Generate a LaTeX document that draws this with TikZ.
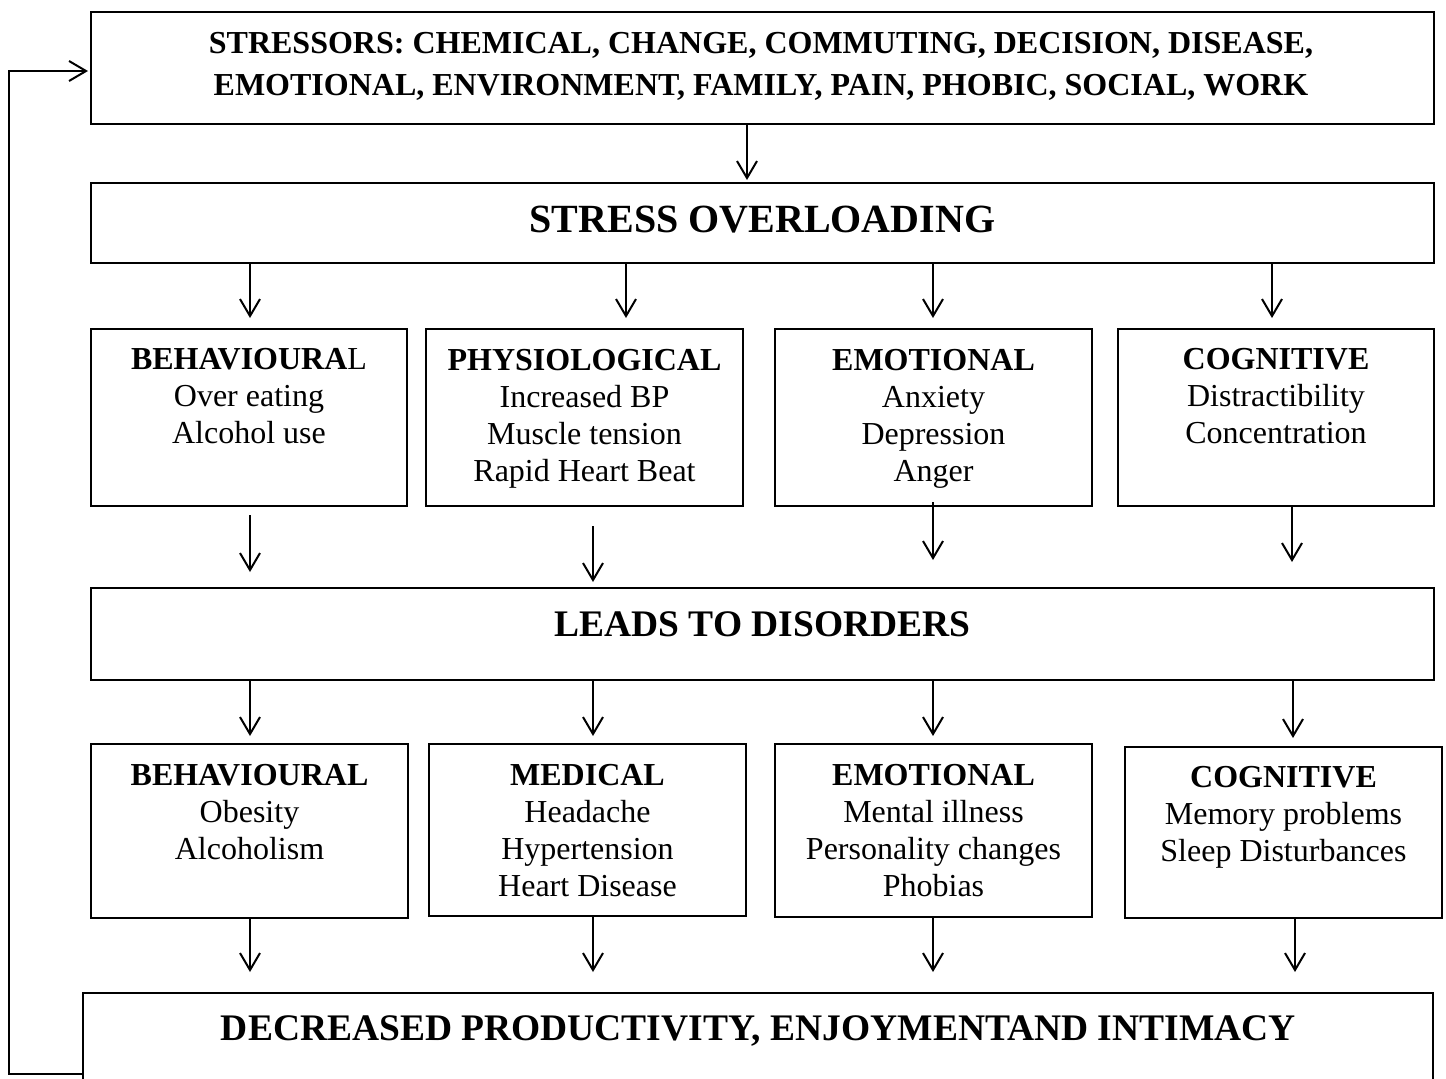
\documentclass[tikz,border=0pt]{standalone}
\usepackage{fontspec}
\setmainfont{Liberation Serif}
\usetikzlibrary{arrows.meta}

\tikzset{
  box/.style={draw, line width=2pt, inner sep=0pt, outer sep=0pt, anchor=north west},
  arr/.style={line width=2pt, -{Straight Barb[length=17pt,width=20pt,line width=2pt]}},
  txt/.style={anchor=base, inner sep=0pt},
}
% three-line box contents: first line is the baseline of the node
\newcommand{\boxtext}[2]{\fontsize{32}{37}\selectfont\begin{tabular}[t]{@{}c@{}}\textbf{#1}\\#2\end{tabular}}

\begin{document}
\begin{tikzpicture}[x=1pt,y=-1pt]
\useasboundingbox (0,0) rectangle (1446,1079);
\clip (0,0) rectangle (1446,1079);

% boxes
\node[box, minimum width=1343pt, minimum height=112pt] (stressors) at (91,12) {};
\node[box, minimum width=1343pt, minimum height=80pt]  (overload)  at (91,183) {};
\node[box, minimum width=316pt, minimum height=177pt]  (b1) at (91,329) {};
\node[box, minimum width=317pt, minimum height=177pt]  (p1) at (426,329) {};
\node[box, minimum width=317pt, minimum height=177pt]  (e1) at (775,329) {};
\node[box, minimum width=316pt, minimum height=177pt]  (c1) at (1118,329) {};
\node[box, minimum width=1343pt, minimum height=92pt]  (leads) at (91,588) {};
\node[box, minimum width=317pt, minimum height=174pt]  (b2) at (91,744) {};
\node[box, minimum width=317pt, minimum height=172pt]  (m2) at (429,744) {};
\node[box, minimum width=317pt, minimum height=173pt]  (e2) at (775,744) {};
\node[box, minimum width=317pt, minimum height=171pt]  (c2) at (1125,747) {};
\node[box, minimum width=1350pt, minimum height=120pt] (dec) at (83,993) {};

% texts
\node[txt] (tstress) at (761,53) {\fontsize{32}{42}\selectfont\bfseries
  \begin{tabular}[t]{@{}c@{}}STRESSORS: CHEMICAL, CHANGE, COMMUTING, DECISION, DISEASE,\\
  EMOTIONAL, ENVIRONMENT, FAMILY, PAIN, PHOBIC, SOCIAL, WORK\end{tabular}};
\node[txt] (tover) at (762.5,232) {\fontsize{40}{46}\selectfont\bfseries STRESS OVERLOADING};
\node[txt] (tleads) at (762.5,636) {\fontsize{37.5}{44}\selectfont\bfseries LEADS TO DISORDERS};
\node[txt] (tdec) at (758.5,1040) {\fontsize{37.5}{44}\selectfont\bfseries DECREASED PRODUCTIVITY, ENJOYMENTAND INTIMACY};

\node[txt] (tb1) at (b1.north |- 0,369) {\fontsize{32}{37}\selectfont\begin{tabular}[t]{@{}c@{}}\textbf{BEHAVIOURA}L\\Over eating\\Alcohol use\end{tabular}};
\node[txt] (tp1) at (p1.north |- 0,370) {\boxtext{PHYSIOLOGICAL}{Increased BP\\Muscle tension\\Rapid Heart Beat}};
\node[txt] (te1) at (e1.north |- 0,370) {\boxtext{EMOTIONAL}{Anxiety\\Depression\\Anger}};
\node[txt] (tc1) at (c1.north |- 0,369) {\boxtext{COGNITIVE}{Distractibility\\Concentration}};

\node[txt] (tb2) at (b2.north |- 0,785) {\boxtext{BEHAVIOURAL}{Obesity\\Alcoholism}};
\node[txt] (tm2) at (m2.north |- 0,785) {\boxtext{MEDICAL}{Headache\\Hypertension\\Heart Disease}};
\node[txt] (te2) at (e2.north |- 0,785) {\boxtext{EMOTIONAL}{Mental illness\\Personality changes\\Phobias}};
\node[txt] (tc2) at (c2.north |- 0,787) {\boxtext{COGNITIVE}{Memory problems\\Sleep Disturbances}};

% arrow columns
\coordinate (xs)  at (747,0);
\coordinate (xa1) at (250,0);
\coordinate (xa2) at (626,0);
\coordinate (xa3) at (933,0);
\coordinate (xa4) at (1272,0);
\coordinate (xb1) at (250,0);
\coordinate (xb2) at (593,0);
\coordinate (xb3) at (933,0);
\coordinate (xb4) at (1292,0);
\coordinate (xc4) at (1293,0);
\coordinate (xd4) at (1295,0);

% stressors -> overloading
\draw[arr] (stressors.south -| xs) -- ([yshift=3pt]overload.north -| xs);

% overloading -> first row
\draw[arr] (overload.south -| xa1) -- ([yshift=11pt]b1.north -| xa1);
\draw[arr] (overload.south -| xa2) -- ([yshift=11pt]p1.north -| xa2);
\draw[arr] (overload.south -| xa3) -- ([yshift=11pt]e1.north -| xa3);
\draw[arr] (overload.south -| xa4) -- ([yshift=11pt]c1.north -| xa4);

% first row -> disorders
\draw[arr] ([yshift=-9pt]b1.south -| xb1) -- ([yshift=16pt]leads.north -| xb1);
\draw[arr] ([yshift=-20pt]p1.south -| xb2) -- ([yshift=6pt]leads.north -| xb2);
\draw[arr] ([yshift=4pt]e1.south -| xb3) -- ([yshift=28pt]leads.north -| xb3);
\draw[arr] (c1.south -| xb4) -- ([yshift=26pt]leads.north -| xb4);

% disorders -> second row
\draw[arr] (leads.south -| xb1) -- ([yshift=8pt]b2.north -| xb1);
\draw[arr] (leads.south -| xb2) -- ([yshift=8pt]m2.north -| xb2);
\draw[arr] (leads.south -| xb3) -- ([yshift=8pt]e2.north -| xb3);
\draw[arr] (leads.south -| xc4) -- ([yshift=9pt]c2.north -| xc4);

% second row -> outcome
\draw[arr] (b2.south -| xb1) -- ([yshift=21pt]dec.north -| xb1);
\draw[arr] (m2.south -| xb2) -- ([yshift=21pt]dec.north -| xb2);
\draw[arr] (e2.south -| xb3) -- ([yshift=21pt]dec.north -| xb3);
\draw[arr] (c2.south -| xd4) -- ([yshift=21pt]dec.north -| xd4);

% feedback loop back to the stressors
\coordinate (rail) at (9,0);
\coordinate (loopA) at ([yshift=-81pt]dec.north west);
\coordinate (loopB) at ([shift={(-3pt,-3pt)}]stressors.west);
\draw[arr] (loopA) -- (loopA -| rail) |- (loopB);
\end{tikzpicture}
\end{document}
